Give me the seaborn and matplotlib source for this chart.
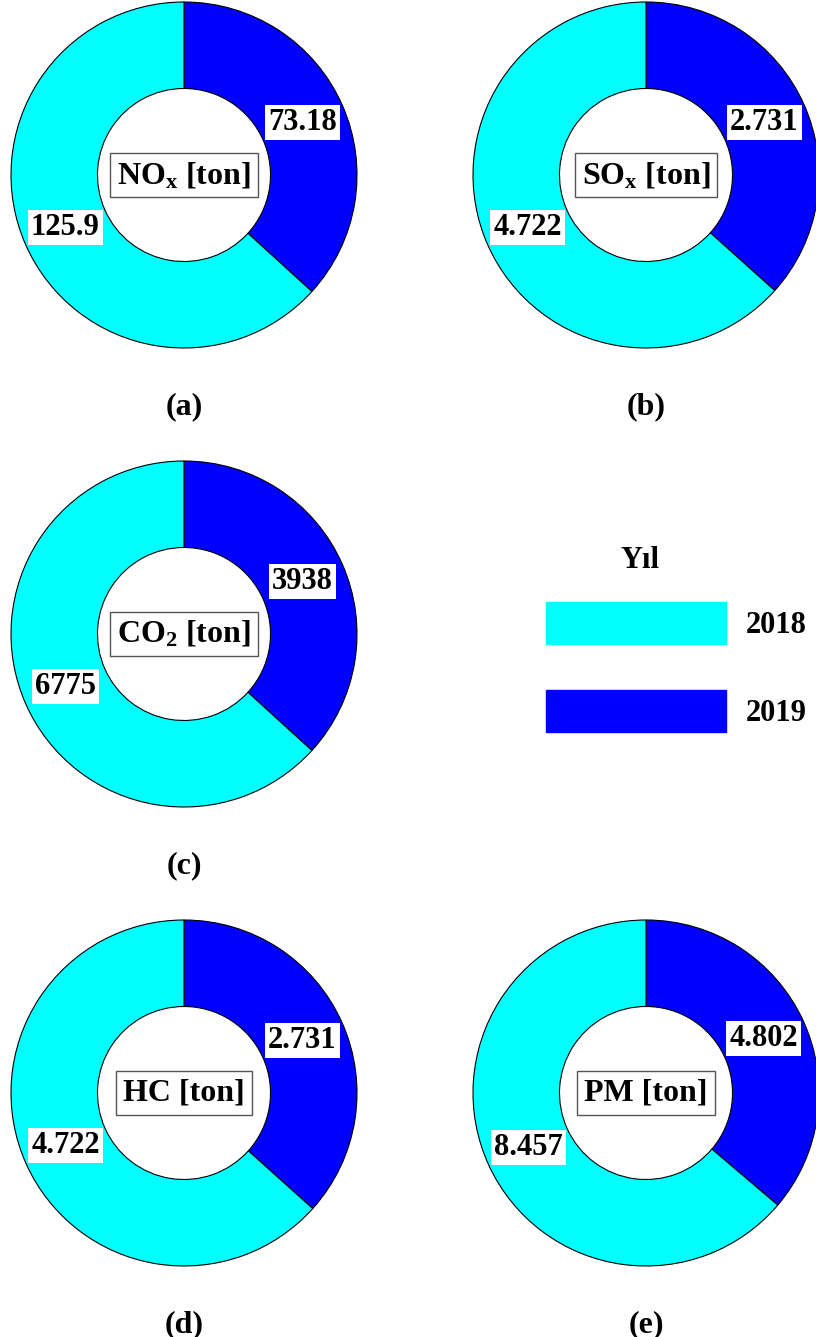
import matplotlib
matplotlib.use("Agg")
import matplotlib.pyplot as plt
from matplotlib.patches import Patch
import seaborn as sns
import numpy as np

# Emission totals per pollutant, split by year (2019 first: it is drawn clockwise from the top)
years = ["2019", "2018"]
nox = [73.18, 125.9]
sox = [2.731, 4.722]
co2 = [3938, 6775]
hc = [2.731, 4.722]
pm = [4.802, 8.457]

center_labels = [r"NO$_\mathrm{x}$ [ton]", r"SO$_\mathrm{x}$ [ton]", r"CO$_\mathrm{2}$ [ton]",
                 "HC [ton]", "PM [ton]"]
panel_tags = ["(a)", "(b)", "(c)", "(d)", "(e)"]
legend_title = "Yıl"
legend_order = ["2018", "2019"]

sns.set_theme(style="white")
plt.rcParams["font.family"] = ["Liberation Serif", "DejaVu Serif"]
plt.rcParams["font.weight"] = "bold"
plt.rcParams["text.color"] = "black"
plt.rcParams["mathtext.fontset"] = "custom"
plt.rcParams["mathtext.rm"] = "Liberation Serif:bold"
plt.rcParams["mathtext.it"] = "Liberation Serif:bold"
plt.rcParams["mathtext.bf"] = "Liberation Serif:bold"

palette = dict(zip(years, sns.color_palette(["#0000FF", "#00FFFF"])))

W, H = 816, 1337
fig = plt.figure(figsize=(W / 100, H / 100), dpi=100, facecolor="white")

R = 173  # donut outer radius in pixels
panels = [
    (nox, (184, 175), (184, 407)),
    (sox, (646, 175), (646, 407)),
    (co2, (184, 634), (184, 866)),
    (hc, (184, 1093), (184, 1325)),
    (pm, (646, 1093), (646, 1325)),
]

for (vals, (cx, cy), (tx, ty)), clabel, tag in zip(panels, center_labels, panel_tags):
    ax = fig.add_axes([(cx - R) / W, 1 - (cy + R) / H, 2 * R / W, 2 * R / H])
    wedges, _ = ax.pie(
        vals,
        colors=[palette[y] for y in years],
        startangle=90,
        counterclock=False,
        radius=1.0,
        wedgeprops=dict(width=0.5, edgecolor="black", linewidth=0.8),
    )
    ax.set_xlim(-1, 1)
    ax.set_ylim(-1, 1)
    ax.set_aspect("equal")
    ax.axis("off")
    for w, v in zip(wedges, vals):
        w.set_clip_on(False)
        mid = np.deg2rad((w.theta1 + w.theta2) / 2)
        ax.text(0.75 * np.cos(mid), 0.75 * np.sin(mid), f"{v:.4g}",
                ha="center", va="center", fontsize=22, fontweight="bold", color="black",
                bbox=dict(boxstyle="square,pad=0.1", fc="white", ec="none"))
    ax.text(0, 0, clabel, ha="center", va="center", fontsize=23, fontweight="bold",
            color="black",
            bbox=dict(boxstyle="square,pad=0.22", fc="white", ec="#555555", lw=1.0))
    fig.text(tx / W, 1 - ty / H, tag, ha="center", va="center",
             fontsize=23, fontweight="bold", color="black")

# Year legend: title sits above the colour swatches
handles = [Patch(facecolor=palette[y], edgecolor=palette[y], label=y) for y in legend_order]
leg = fig.legend(handles=handles, loc="upper left", bbox_to_anchor=(546 / W, 1 - 602 / H),
                 frameon=False, fontsize=22,
                 handlelength=5.9, handleheight=1.74, labelspacing=1.5,
                 handletextpad=0.65, borderpad=0.0, borderaxespad=0.0)
for t in leg.get_texts():
    t.set_fontweight("bold")
    t.set_color("black")
fig.text(640 / W, 1 - 560 / H, legend_title, ha="center", va="center",
         fontsize=22, fontweight="bold", color="black")

fig.savefig("out.png", dpi=100, facecolor="white")
